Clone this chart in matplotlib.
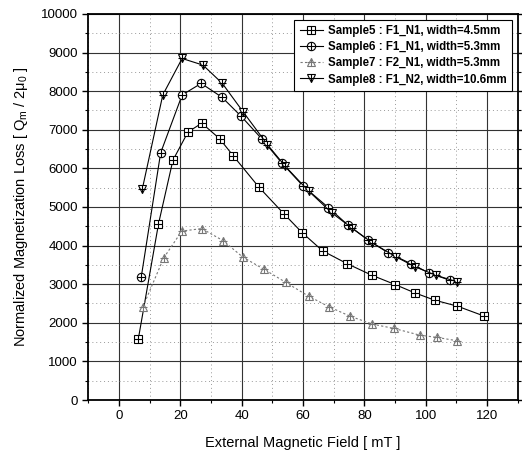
import matplotlib
matplotlib.use("Agg")
import matplotlib.pyplot as plt
from matplotlib.ticker import MultipleLocator

plt.rcParams['font.family'] = ['Liberation Sans Narrow', 'Liberation Sans', 'DejaVu Sans']
plt.rcParams['mathtext.fontset'] = 'custom'
plt.rcParams['mathtext.rm'] = 'Liberation Sans'
plt.rcParams['mathtext.it'] = 'Liberation Sans'

# Sample5 : F1_N1, width=4.5mm
x5 = [6.3, 12.9, 17.6, 22.5, 27.0, 32.8, 37.2, 45.6, 53.8, 59.7, 66.4, 74.3, 82.4, 90.0, 96.4, 102.9, 110.3, 119.1]
y5 = [1570, 4560, 6210, 6940, 7170, 6770, 6330, 5515, 4820, 4336, 3862, 3534, 3233, 2991, 2776, 2586, 2431, 2172]

# Sample6 : F1_N1, width=5.3mm
x6 = [7.3, 13.6, 20.6, 26.8, 33.6, 39.9, 46.6, 53.2, 60.0, 68.3, 74.6, 81.3, 87.8, 95.1, 101.0, 107.8]
y6 = [3195, 6400, 7900, 8200, 7841, 7343, 6760, 6130, 5543, 4983, 4534, 4138, 3810, 3534, 3293, 3103]

# Sample7 : F2_N1, width=5.3mm
x7 = [7.8, 14.6, 20.5, 27.0, 33.9, 40.4, 47.2, 54.3, 61.8, 68.5, 75.3, 82.6, 89.7, 98.0, 103.8, 110.3]
y7 = [2410, 3680, 4375, 4440, 4130, 3700, 3390, 3050, 2690, 2414, 2172, 1966, 1853, 1681, 1620, 1534]

# Sample8 : F1_N2, width=10.6mm
x8 = [7.6, 14.3, 20.6, 27.4, 33.7, 40.4, 48.4, 54.2, 61.8, 69.4, 75.9, 82.6, 90.3, 96.6, 103.2, 110.3]
y8 = [5455, 7901, 8845, 8674, 8200, 7472, 6614, 6056, 5414, 4845, 4457, 4069, 3707, 3448, 3233, 3060]

labels = ["Sample5 : F1_N1, width=4.5mm",
          "Sample6 : F1_N1, width=5.3mm",
          "Sample7 : F2_N1, width=5.3mm",
          "Sample8 : F1_N2, width=10.6mm"]

fig = plt.figure(figsize=(5.22, 4.63), dpi=100)
ax = fig.add_axes([0.169, 0.136, 0.823, 0.834])

series = [(x5, y5, 's', 'black', '-'),
          (x6, y6, 'o', 'black', '-'),
          (x7, y7, '^', '#777777', (0, (2, 2))),
          (x8, y8, 'v', 'black', '-')]

handles = []
for (x, y, m, c, ls), lab in zip(series, labels):
    l1, = ax.plot(x, y, color=c, ls=ls, lw=0.8, marker=m, ms=6,
                  mfc='white', mec=c, mew=0.8, zorder=3)
    l2, = ax.plot(x, y, ls='none', marker='+', ms=6, mec=c, mew=0.8, zorder=4)
    handles.append((l1, l2))

ax.set_xlim(-10, 130)
ax.set_ylim(0, 10000)
ax.xaxis.set_major_locator(MultipleLocator(20))
ax.xaxis.set_minor_locator(MultipleLocator(10))
ax.yaxis.set_major_locator(MultipleLocator(1000))
ax.yaxis.set_minor_locator(MultipleLocator(500))
ax.set_xticks([0, 20, 40, 60, 80, 100, 120])

ax.grid(which='major', color='#333333', lw=0.8, ls='-')
ax.grid(which='minor', color='#999999', lw=0.7, ls=(0, (1, 3)))
ax.set_axisbelow(True)

ax.tick_params(which='both', direction='out', top=False, right=True, labelsize=9.5)
ax.tick_params(which='major', length=4, width=1)
ax.tick_params(which='minor', length=2.5, width=0.8)
for s in ax.spines.values():
    s.set_linewidth(1.3)

ax.set_xlabel("External Magnetic Field [ mT ]", fontsize=10.5, labelpad=10)
ax.set_ylabel(r"Normalized Magnetization Loss [ Q$_{\rm m}$ / 2$\mu_0$ ]", fontsize=10.5, labelpad=8)

leg = ax.legend(handles, labels, loc='upper right', frameon=True,
                fancybox=False, edgecolor='black', framealpha=1,
                handlelength=2.0, borderpad=0.5, labelspacing=0.35,
                handletextpad=0.4, prop={'weight': 'bold', 'size': 8.3})
leg.get_frame().set_linewidth(0.8)

fig.savefig("out.png", dpi=100)
